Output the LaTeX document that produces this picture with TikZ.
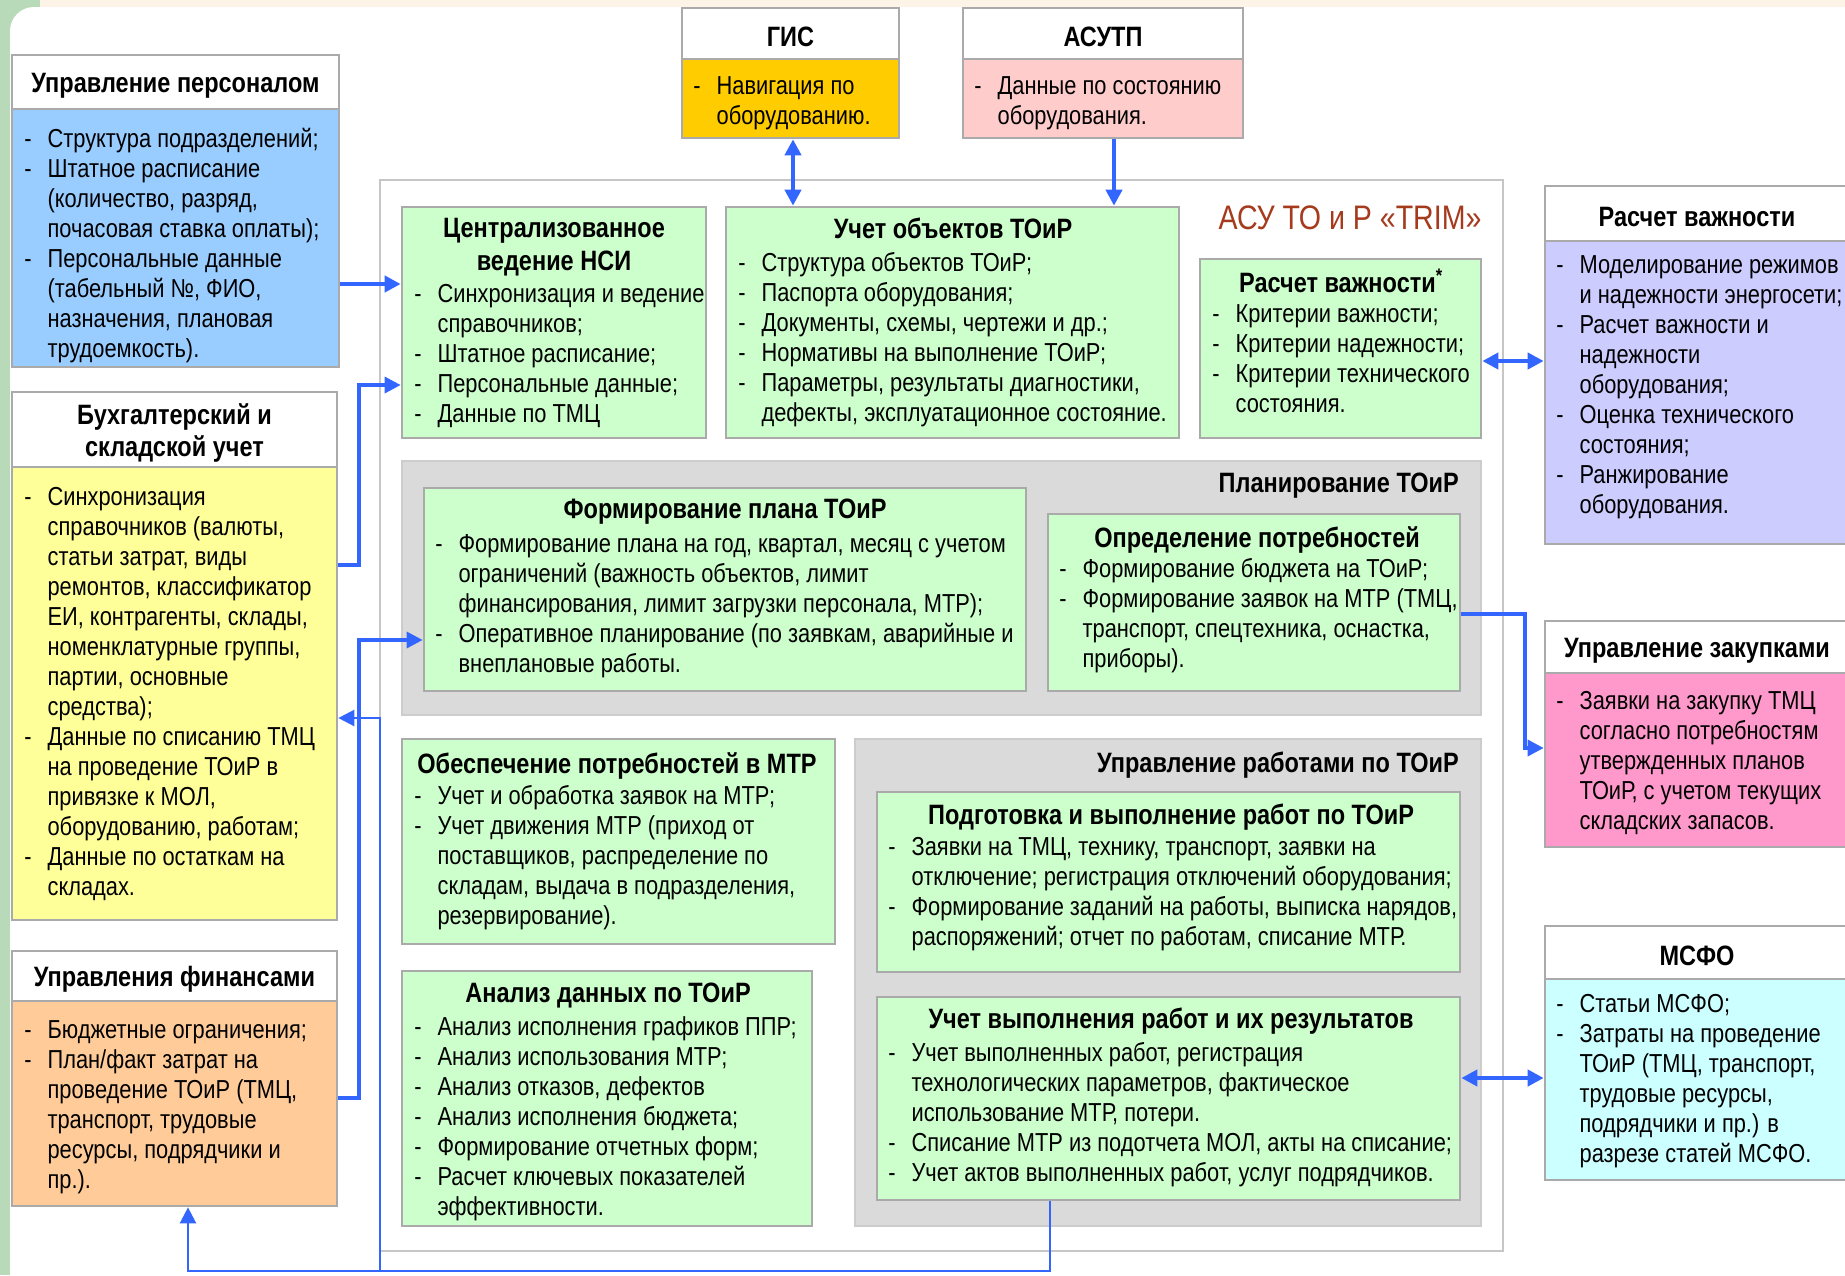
\documentclass[tikz,border=0pt]{standalone}
\usepackage{fontspec}
\setmainfont{Liberation Sans}[FakeStretch=0.84]
\usetikzlibrary{arrows.meta,fit}

\definecolor{arrblue}{RGB}{51,102,255}
\definecolor{boxline}{RGB}{170,170,170}
\definecolor{grpfill}{RGB}{218,218,218}
\definecolor{grnfill}{RGB}{204,255,204}
\definecolor{persfill}{RGB}{153,204,255}
\definecolor{buhfill}{RGB}{255,255,153}
\definecolor{finfill}{RGB}{255,204,153}
\definecolor{gisfill}{RGB}{255,204,0}
\definecolor{asufill}{RGB}{255,204,204}
\definecolor{rvfill}{RGB}{204,204,255}
\definecolor{zakfill}{RGB}{255,153,204}
\definecolor{msfofill}{RGB}{204,255,255}
\definecolor{trimred}{RGB}{165,58,28}
\definecolor{bgcream}{RGB}{253,243,230}
\definecolor{bggreen}{RGB}{184,218,184}

\newcommand\bodyfont{\fontsize{19.5}{22.5}\selectfont}
\newcommand\ttlfont{\fontsize{21}{24.5}\selectfont\bfseries}
\newcommand\dsh{\makebox[17.5pt][l]{-}}
\newcommand\ind{\hspace*{17.5pt}}

\tikzset{
  box/.style={draw=boxline, line width=2pt, inner sep=0pt},
  hdr/.style={box, fill=white},
  hdrtext/.style={anchor=center, align=center, inner sep=0pt, font=\ttlfont, yshift=-2.5pt},
  grp/.style={box, fill=grpfill, draw=gray!40},
  grn/.style={box, fill=grnfill},
  txt/.style={anchor=north west, align=left, inner sep=0pt, font=\bodyfont},
  ttl/.style={anchor=north, align=center, inner sep=0pt, font=\ttlfont},
  arr/.style={draw=arrblue, line width=3pt, arrows={-Triangle[length=12pt,width=12pt]}},
  dbl/.style={arr, arrows={Triangle[length=12pt,width=12pt]-Triangle[length=12pt,width=12pt]}},
}

\begin{document}
\begin{tikzpicture}[x=0.75pt,y=-0.75pt]
    \useasboundingbox (0,0) rectangle (1845,1275);
    \clip (0,0) rectangle (1845,1275);

    % Slide background
    \fill[bggreen] (0,0) rectangle (40,1275);
    \fill[bgcream] (40,0) rectangle (1845,7);
    \fill[white, rounded corners=18pt] (10,7) rectangle (1880,1300);

    % Outer systems, left
    \node[hdr, fit={(12,55) (339,109)}] (persH) {};
    \node[hdrtext] (persHT) at (persH.center) {Управление персоналом};
    \node[box, fill=persfill, fit={(12,109) (339,367)}] (persB) {};
    \node[txt] (persT) at (24,128) {\dsh Структура подразделений;\\ \dsh Штатное расписание\\ \ind (количество, разряд,\\ \ind почасовая ставка оплаты);\\ \dsh Персональные данные\\ \ind (табельный №, ФИО,\\ \ind назначения, плановая\\ \ind трудоемкость).};

    \node[hdr, fit={(12,392) (337,467)}] (buhH) {};
    \node[hdrtext] (buhHT) at (buhH.center) {Бухгалтерский и\\складской учет};
    \node[box, fill=buhfill, fit={(12,467) (337,920)}] (buhB) {};
    \node[txt] (buhT) at (24,487) {\dsh Синхронизация\\ \ind справочников (валюты,\\ \ind статьи затрат, виды\\ \ind ремонтов, классификатор\\ \ind ЕИ, контрагенты, склады,\\ \ind номенклатурные группы,\\ \ind партии, основные\\ \ind средства);\\ \dsh Данные по списанию ТМЦ\\ \ind на проведение ТОиР в\\ \ind привязке к МОЛ,\\ \ind оборудованию, работам;\\ \dsh Данные по остаткам на\\ \ind складах.};

    \node[hdr, fit={(12,951) (337,1001)}] (finH) {};
    \node[hdrtext] (finHT) at (finH.center) {Управления финансами};
    \node[box, fill=finfill, fit={(12,1001) (337,1206)}] (finB) {};
    \node[txt] (finT) at (24,1020) {\dsh Бюджетные ограничения;\\ \dsh План/факт затрат на\\ \ind проведение ТОиР (ТМЦ,\\ \ind транспорт, трудовые\\ \ind ресурсы, подрядчики и\\ \ind пр.).};

    % Outer systems, top
    \node[hdr, fit={(682,8) (899,59)}] (gisH) {};
    \node[hdrtext] (gisHT) at (gisH.center) {ГИС};
    \node[box, fill=gisfill, fit={(682,59) (899,138)}] (gisB) {};
    \node[txt] (gisT) at (693,76) {\dsh Навигация по\\ \ind оборудованию.};

    \node[hdr, fit={(963,8) (1243,59)}] (asuH) {};
    \node[hdrtext] (asuHT) at (asuH.center) {АСУТП};
    \node[box, fill=asufill, fit={(963,59) (1243,138)}] (asuB) {};
    \node[txt] (asuT) at (974,76) {\dsh Данные по состоянию\\ \ind оборудования.};

    % Outer systems, right
    \node[hdr, fit={(1545,186) (1849,241)}] (rvH) {};
    \node[hdrtext] (rvHT) at (rvH.center) {Расчет важности};
    \node[box, fill=rvfill, fit={(1545,241) (1849,544)}] (rvB) {};
    \node[txt] (rvT) at (1556,255) {\dsh Моделирование режимов\\ \ind и надежности энергосети;\\ \dsh Расчет важности и\\ \ind надежности\\ \ind оборудования;\\ \dsh Оценка технического\\ \ind состояния;\\ \dsh Ранжирование\\ \ind оборудования.};

    \node[hdr, fit={(1545,621) (1849,673)}] (zakH) {};
    \node[hdrtext] (zakHT) at (zakH.center) {Управление закупками};
    \node[box, fill=zakfill, fit={(1545,673) (1849,847)}] (zakB) {};
    \node[txt] (zakT) at (1556,691) {\dsh Заявки на закупку ТМЦ\\ \ind согласно потребностям\\ \ind утвержденных планов\\ \ind ТОиР, с учетом текущих\\ \ind складских запасов.};

    \node[hdr, fit={(1545,926) (1849,979)}] (msfoH) {};
    \node[hdrtext] (msfoHT) at (msfoH.center) {МСФО};
    \node[box, fill=msfofill, fit={(1545,979) (1849,1180)}] (msfoB) {};
    \node[txt] (msfoT) at (1556,994) {\dsh Статьи МСФО;\\ \dsh Затраты на проведение\\ \ind ТОиР (ТМЦ, транспорт,\\ \ind трудовые ресурсы,\\ \ind подрядчики и пр.) в\\ \ind разрезе статей МСФО.};

    % TRIM
    \node[box, fill=white, draw=gray!45, fit={(380,180) (1503,1251)}] (trim) {};
    \node[font=\fontsize{25.5}{29}\selectfont, text=trimred, inner sep=0pt] (trimT) at (1350,218) {АСУ ТО и Р «TRIM»};

    \node[grn, fit={(402,207) (706,438)}] (nsi) {};
    \node[ttl] (nsiT) at (554,218) {Централизованное\\ведение НСИ};
    \node[txt] (nsiL) at (414,284) {\dsh Синхронизация и ведение\\ \ind справочников;\\ \dsh Штатное расписание;\\ \dsh Персональные данные;\\ \dsh Данные по ТМЦ};

    \node[grn, fit={(726,207) (1179,438)}] (ucheto) {};
    \node[ttl] (uchetoT) at (953,218) {Учет объектов ТОиР};
    \node[txt] (uchetoL) at (738,252) {\dsh Структура объектов ТОиР;\\ \dsh Паспорта оборудования;\\ \dsh Документы, схемы, чертежи и др.;\\ \dsh Нормативы на выполнение ТОиР;\\ \dsh Параметры, результаты диагностики,\\ \ind дефекты, эксплуатационное состояние.};

    \node[grn, fit={(1200,259) (1481,438)}] (rvIn) {};
    \node[ttl] (rvInT) at (1341,269) {Расчет важности\textsuperscript{*}};
    \node[txt] (rvInL) at (1212,304) {\dsh Критерии важности;\\ \dsh Критерии надежности;\\ \dsh Критерии технического\\ \ind состояния.};

    % Planning group
    \node[grp, fit={(402,461) (1481,715)}] (planG) {};
    \node[font=\ttlfont, anchor=east, inner sep=0pt] (planL) at (1459,486) {Планирование ТОиР};

    \node[grn, fit={(424,488) (1026,691)}] (formPl) {};
    \node[ttl] (formPlT) at (725,499) {Формирование плана ТОиР};
    \node[txt] (formPlL) at (435,534) {\dsh Формирование плана на год, квартал, месяц с учетом\\ \ind ограничений (важность объектов, лимит\\ \ind финансирования, лимит загрузки персонала, МТР);\\ \dsh Оперативное планирование (по заявкам, аварийные и\\ \ind внеплановые работы.};

    \node[grn, fit={(1048,514) (1460,691)}] (opr) {};
    \node[ttl] (oprT) at (1257,526) {Определение потребностей};
    \node[txt] (oprL) at (1059,558) {\dsh Формирование бюджета на ТОиР;\\ \dsh Формирование заявок на МТР (ТМЦ,\\ \ind транспорт, спецтехника, оснастка,\\ \ind приборы).};

    \node[grn, fit={(402,739) (835,944)}] (obesp) {};
    \node[ttl] (obespT) at (617,752) {Обеспечение потребностей в МТР};
    \node[txt] (obespL) at (414,785) {\dsh Учет и обработка заявок на МТР;\\ \dsh Учет движения МТР (приход от\\ \ind поставщиков, распределение по\\ \ind складам, выдача в подразделения,\\ \ind резервирование).};

    \node[grn, fit={(402,971) (812,1226)}] (analiz) {};
    \node[ttl] (analizT) at (608,983) {Анализ данных по ТОиР};
    \node[txt] (analizL) at (414,1016) {\dsh Анализ исполнения графиков ППР;\\ \dsh Анализ использования МТР;\\ \dsh Анализ отказов, дефектов\\ \dsh Анализ исполнения бюджета;\\ \dsh Формирование отчетных форм;\\ \dsh Расчет ключевых показателей\\ \ind эффективности.};

    % Works group
    \node[grp, fit={(855,739) (1481,1226)}] (rabG) {};
    \node[font=\ttlfont, anchor=east, inner sep=0pt] (rabL) at (1459,765) {Управление работами по ТОиР};

    \node[grn, fit={(877,792) (1460,972)}] (podg) {};
    \node[ttl] (podgT) at (1171,804) {Подготовка и выполнение работ по ТОиР};
    \node[txt] (podgL) at (888,837) {\dsh Заявки на ТМЦ, технику, транспорт, заявки на\\ \ind отключение; регистрация отключений оборудования;\\ \dsh Формирование заданий на работы, выписка нарядов,\\ \ind распоряжений; отчет по работам, списание МТР.};

    \node[grn, fit={(877,997) (1460,1200)}] (uchvyp) {};
    \node[ttl] (uchvypT) at (1171,1008) {Учет выполнения работ и их результатов};
    \node[txt] (uchvypL) at (888,1042) {\dsh Учет выполненных работ, регистрация\\ \ind технологических параметров, фактическое\\ \ind использование МТР, потери.\\ \dsh Списание МТР из подотчета МОЛ, акты на списание;\\ \dsh Учет актов выполненных работ, услуг подрядчиков.};

    % Rows and columns of the links
    \coordinate (yPers) at (0,284);
    \coordinate (yBuhOut) at (0,565);
    \coordinate (yNsi) at (0,385);
    \coordinate (xLeft) at (359,0);
    \coordinate (yFinOut) at (0,1098);
    \coordinate (yPlan) at (0,640);
    \coordinate (xBack) at (380,0);
    \coordinate (yBuhIn) at (0,718);
    \coordinate (yBot) at (0,1271);
    \coordinate (xDown) at (1050,0);
    \coordinate (xFinIn) at (188,0);
    \coordinate (xGis) at (793,0);
    \coordinate (xAsu) at (1114,0);
    \coordinate (yRv) at (0,361);
    \coordinate (yOpr) at (0,614);
    \coordinate (xZak) at (1525,0);
    \coordinate (yZak) at (0,748);
    \coordinate (yMsfo) at (0,1078);

    % Links
    \draw[arr] (persB.east |- yPers) -- (nsi.west |- yPers);
    \draw[arr, line width=2.5pt] (buhB.east |- yBuhOut) -| (xLeft |- yNsi) -- (nsi.west |- yNsi);
    \draw[arr, line width=2.5pt] (finB.east |- yFinOut) -| (xLeft |- yPlan) -- (formPl.west |- yPlan);
    \draw[arr, line width=1.8pt] (uchvyp.south -| xDown) |- (xBack |- yBot) -- (xBack |- yBuhIn) -- (buhB.east |- yBuhIn);
    \draw[arr, line width=1.8pt] (xBack |- yBot) -| (finB.south -| xFinIn);
    \draw[dbl] (gisB.south -| xGis) -- (ucheto.north -| xGis);
    \draw[arr] (asuB.south -| xAsu) -- (ucheto.north -| xAsu);
    \draw[dbl] (rvIn.east |- yRv) -- (rvB.west |- yRv);
    \draw[arr, line width=2.5pt] (opr.east |- yOpr) -| (xZak |- yZak) -- (zakB.west |- yZak);
    \draw[dbl] (uchvyp.east |- yMsfo) -- (msfoB.west |- yMsfo);
\end{tikzpicture}
\end{document}
